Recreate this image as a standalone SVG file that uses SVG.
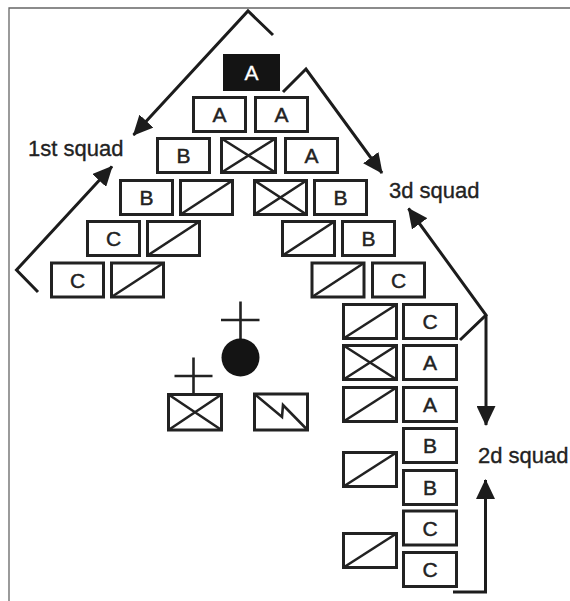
<svg xmlns="http://www.w3.org/2000/svg" width="570" height="601" viewBox="0 0 570 601">
<style>
.bx{fill:#fff;stroke:#222;stroke-width:3}
.blk{fill:#141414;stroke:#141414;stroke-width:3}
.ln{stroke:#222;stroke-width:2.6;fill:none}
.t{font-family:"Liberation Sans",Arial,sans-serif;font-size:21px;fill:#222;stroke:#222;stroke-width:0.45;text-anchor:middle}
.tw{font-family:"Liberation Sans",Arial,sans-serif;font-size:21px;fill:#fff;stroke:#fff;stroke-width:0.3;text-anchor:middle}
.lbl{font-family:"Liberation Sans",Arial,sans-serif;font-size:22px;fill:#222;stroke:#222;stroke-width:0.35}
.cn{stroke:#1c1c1c;stroke-width:3;fill:none;marker-end:url(#ah)}
.frame{stroke:#666;stroke-width:1.3;fill:none}
</style>
<defs>
<marker id="ah" markerUnits="userSpaceOnUse" markerWidth="20" markerHeight="19" refX="19" refY="9.5" orient="auto">
<path d="M0,0 L20,9.5 L0,19 z" fill="#1c1c1c"/>
</marker>
</defs>
<rect width="570" height="601" fill="#fff"/>
<path class="frame" d="M9,601 V8 H570"/>

<g id="connectors">
<polyline class="cn" points="273,35 248,11 133.5,135"/>
<polyline class="cn" points="38,292 16.5,270 112,166.5"/>
<polyline class="cn" points="283,92 306,69 382,173"/>
<polyline class="cn" points="460,340 486,315 408.5,208.5"/>
<line class="cn" x1="486" y1="315" x2="486" y2="425"/>
<polyline class="cn" points="453,592 485.5,592 485.5,480"/>
</g>

<!-- row 0 -->
<g id="n-r0-A" transform="translate(223,54)"><rect class="blk" x="1.5" y="1.5" width="54" height="34"/><text class="tw" x="28.5" y="26">A</text></g>
<!-- row 1 -->
<g id="n-r1-A1" transform="translate(192,96)"><rect class="bx" x="1.5" y="1.5" width="52" height="34"/><text class="t" x="27.5" y="26">A</text></g>
<g id="n-r1-A2" transform="translate(254,96)"><rect class="bx" x="1.5" y="1.5" width="52" height="34"/><text class="t" x="27.5" y="26">A</text></g>
<!-- row 2 -->
<g id="n-r2-B" transform="translate(156,137)"><rect class="bx" x="1.5" y="1.5" width="52" height="34"/><text class="t" x="27.5" y="26">B</text></g>
<g id="n-r2-X" transform="translate(220,137)"><rect class="bx" x="1.5" y="1.5" width="54" height="34"/><path class="ln" d="M1.5,35.5 L55.5,1.5 M1.5,1.5 L55.5,35.5"/></g>
<g id="n-r2-A" transform="translate(284,137)"><rect class="bx" x="1.5" y="1.5" width="52" height="34"/><text class="t" x="27.5" y="26">A</text></g>
<!-- row 3 -->
<g id="n-r3-B" transform="translate(119,179)"><rect class="bx" x="1.5" y="1.5" width="52" height="34"/><text class="t" x="27.5" y="26">B</text></g>
<g id="n-r3-S" transform="translate(179,179)"><rect class="bx" x="1.5" y="1.5" width="52" height="34"/><path class="ln" d="M1.5,35.5 L53.5,1.5"/></g>
<g id="n-r3-X" transform="translate(253,179)"><rect class="bx" x="1.5" y="1.5" width="52" height="34"/><path class="ln" d="M1.5,35.5 L53.5,1.5 M1.5,1.5 L53.5,35.5"/></g>
<g id="n-r3-B2" transform="translate(313,179)"><rect class="bx" x="1.5" y="1.5" width="52" height="34"/><text class="t" x="27.5" y="26">B</text></g>
<!-- row 4 -->
<g id="n-r4-C" transform="translate(86,220)"><rect class="bx" x="1.5" y="1.5" width="52" height="34"/><text class="t" x="27.5" y="26">C</text></g>
<g id="n-r4-S" transform="translate(146,220)"><rect class="bx" x="1.5" y="1.5" width="52" height="34"/><path class="ln" d="M1.5,35.5 L53.5,1.5"/></g>
<g id="n-r4-S2" transform="translate(281,220)"><rect class="bx" x="1.5" y="1.5" width="52" height="34"/><path class="ln" d="M1.5,35.5 L53.5,1.5"/></g>
<g id="n-r4-B" transform="translate(341,220)"><rect class="bx" x="1.5" y="1.5" width="52" height="34"/><text class="t" x="27.5" y="26">B</text></g>
<!-- row 5 -->
<g id="n-r5-C" transform="translate(50,261.5)"><rect class="bx" x="1.5" y="1.5" width="52" height="34"/><text class="t" x="27.5" y="26">C</text></g>
<g id="n-r5-S" transform="translate(110,261.5)"><rect class="bx" x="1.5" y="1.5" width="52" height="34"/><path class="ln" d="M1.5,35.5 L53.5,1.5"/></g>
<g id="n-r5-S2" transform="translate(310.5,261.5)"><rect class="bx" x="1.5" y="1.5" width="52" height="34"/><path class="ln" d="M1.5,35.5 L53.5,1.5"/></g>
<g id="n-r5-C2" transform="translate(371,261.5)"><rect class="bx" x="1.5" y="1.5" width="52" height="34"/><text class="t" x="27.5" y="26">C</text></g>
<!-- right column -->
<g id="n-r6-S" transform="translate(342,303)"><rect class="bx" x="1.5" y="1.5" width="53" height="34"/><path class="ln" d="M1.5,35.5 L54.5,1.5"/></g>
<g id="n-r6-C" transform="translate(402,303)"><rect class="bx" x="1.5" y="1.5" width="53" height="34"/><text class="t" x="28" y="26">C</text></g>
<g id="n-r7-X" transform="translate(342,344)"><rect class="bx" x="1.5" y="1.5" width="53" height="34"/><path class="ln" d="M1.5,35.5 L54.5,1.5 M1.5,1.5 L54.5,35.5"/></g>
<g id="n-r7-A" transform="translate(402,344)"><rect class="bx" x="1.5" y="1.5" width="53" height="34"/><text class="t" x="28" y="26">A</text></g>
<g id="n-r8-S" transform="translate(342,386)"><rect class="bx" x="1.5" y="1.5" width="53" height="34"/><path class="ln" d="M1.5,35.5 L54.5,1.5"/></g>
<g id="n-r8-A" transform="translate(402,386)"><rect class="bx" x="1.5" y="1.5" width="53" height="34"/><text class="t" x="28" y="26">A</text></g>
<g id="n-r9-B" transform="translate(402,427)"><rect class="bx" x="1.5" y="1.5" width="53" height="34"/><text class="t" x="28" y="26">B</text></g>
<g id="n-r10-S" transform="translate(342,451)"><rect class="bx" x="1.5" y="1.5" width="53" height="34"/><path class="ln" d="M1.5,35.5 L54.5,1.5"/></g>
<g id="n-r10-B" transform="translate(402,469)"><rect class="bx" x="1.5" y="1.5" width="53" height="34"/><text class="t" x="28" y="26">B</text></g>
<g id="n-r11-C" transform="translate(402,509.5)"><rect class="bx" x="1.5" y="1.5" width="53" height="34"/><text class="t" x="28" y="26">C</text></g>
<g id="n-r12-S" transform="translate(342,532)"><rect class="bx" x="1.5" y="1.5" width="53" height="34"/><path class="ln" d="M1.5,35.5 L54.5,1.5"/></g>
<g id="n-r12-C" transform="translate(402,551)"><rect class="bx" x="1.5" y="1.5" width="53" height="34"/><text class="t" x="28" y="26">C</text></g>

<!-- center symbols -->
<g id="n-leader">
<line class="ln" x1="240.5" y1="301.5" x2="240.5" y2="340"/>
<line class="ln" x1="221" y1="320" x2="259.5" y2="320"/>
<circle cx="240.5" cy="357.5" r="19" fill="#141414"/>
</g>
<g id="n-medic">
<line class="ln" x1="193.5" y1="357.5" x2="193.5" y2="394"/>
<line class="ln" x1="174.5" y1="376" x2="212.5" y2="376"/>
<rect class="bx" x="168.5" y="394.5" width="53" height="35.5"/>
<path class="ln" d="M168.5,430 L221.5,394.5 M168.5,394.5 L221.5,430"/>
</g>
<g id="n-signal">
<rect class="bx" x="254.5" y="394" width="53" height="36"/>
<path class="ln" d="M254.5,394 L282,417 L283,405 L307.5,430"/>
</g>

<text class="lbl" x="28" y="156">1st squad</text>
<text class="lbl" x="389" y="198">3d squad</text>
<text class="lbl" x="478" y="463">2d squad</text>
</svg>
